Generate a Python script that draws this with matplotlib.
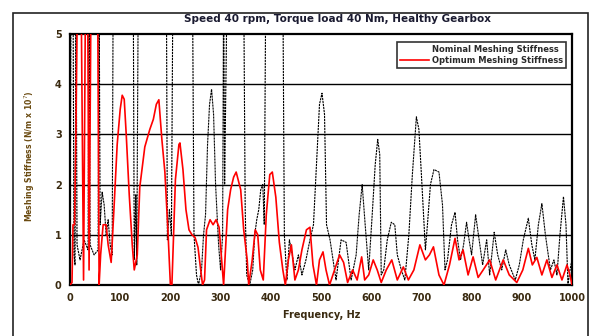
import matplotlib
matplotlib.use("Agg")
import matplotlib.pyplot as plt
from matplotlib.patches import Rectangle

# Nominal meshing stiffness (black), values above 5 are clipped by the axis
nominal_freq = [0, 2, 6, 8, 10, 12, 14, 20, 28, 36, 38, 40, 48, 56, 58, 60, 64, 68, 72, 76, 80, 84,
                86, 126, 128, 131, 133, 136, 192, 194, 198, 202, 205, 244, 247, 252, 256, 262, 266,
                270, 274, 278, 282, 286, 290, 296, 300, 304, 306, 308, 313, 346, 349, 352, 358, 364,
                368, 372, 376, 380, 384, 387, 390, 424, 427, 432, 434, 437, 441, 448, 455, 462, 470,
                478, 485, 492, 497, 502, 507, 511, 518, 524, 530, 540, 550, 560, 570, 576, 582, 588,
                595, 602, 608, 613, 617, 620, 625, 632, 640, 647, 652, 660, 667, 675, 682, 690, 695,
                700, 708, 712, 718, 725, 735, 742, 747, 752, 760, 767, 772, 778, 784, 790, 795, 800,
                808, 815, 822, 830, 836, 845, 852, 860, 868, 875, 887, 895, 903, 913, 920, 926, 933,
                940, 947, 957, 964, 970, 976, 983, 988, 992, 996, 1000]
nominal_val = [0.0, 6, 6, 0.6, 0.4, 6, 0.8, 0.5, 0.9, 0.7, 6, 0.8, 0.6, 0.7, 6, 1.2, 1.85, 1.6, 1.0,
               1.3, 0.8, 0.6, 6, 6, 0.5, 1.8, 0.4, 6, 6, 0.9, 1.5, 1.0, 6, 6, 1.0, 0.2, 0.0, 0.3,
               1.0, 1.4, 2.8, 3.6, 3.9, 3.4, 2.0, 0.8, 0.3, 1.0, 6, 2.0, 6, 6, 1.5, 0.2, 0.0, 0.3,
               1.0, 1.3, 1.5, 1.9, 2.0, 1.2, 6, 6, 1.0, 0.1, 0.4, 0.9, 0.7, 0.3, 0.6, 0.2, 0.5, 0.9,
               1.2, 2.6, 3.6, 3.82, 3.4, 1.2, 0.9, 0.5, 0.1, 0.9, 0.85, 0.1, 0.6, 1.4, 2.0, 1.2, 0.3,
               1.4, 2.4, 2.9, 2.6, 0.2, 0.3, 0.9, 1.25, 1.2, 0.6, 0.3, 0.1, 1.0, 2.2, 3.35, 3.1,
               2.2, 0.7, 1.2, 2.0, 2.3, 2.25, 1.6, 0.3, 0.5, 1.2, 1.45, 0.9, 0.5, 0.8, 1.25, 0.9,
               0.6, 1.4, 0.9, 0.4, 0.9, 0.2, 1.05, 0.6, 0.3, 0.7, 0.4, 0.1, 0.4, 0.9, 1.33, 0.8,
               0.5, 1.2, 1.62, 1.0, 0.3, 0.5, 0.2, 1.0, 1.76, 1.2, 0.0, 0.3, 0.5]

# Optimum meshing stiffness (red)
optimum_freq = [0, 4, 6, 9, 12, 15, 22, 27, 31, 35, 38, 42, 55, 58, 61, 66, 72, 76, 82, 88, 94, 100,
                104, 108, 112, 118, 124, 128, 134, 139, 149, 159, 166, 172, 177, 183, 189, 195, 200,
                203, 210, 217, 219, 225, 231, 237, 243, 249, 255, 264, 268, 272, 279, 285, 291, 297,
                303, 306, 314, 320, 326, 331, 340, 346, 353, 356, 363, 369, 374, 379, 385, 391, 398,
                403, 410, 417, 424, 429, 435, 441, 448, 455, 462, 471, 478, 484, 491, 497, 504, 510,
                517, 527, 537, 545, 553, 563, 572, 581, 587, 595, 604, 612, 620, 630, 641, 652, 664,
                674, 685, 697, 708, 716, 724, 735, 745, 756, 767, 775, 783, 793, 803, 813, 823, 836,
                848, 863, 875, 890, 902, 913, 921, 930, 940, 950, 960, 970, 980, 990, 996, 1000]
optimum_val = [0.0, 0.05, 1.2, 1.2, 3.2, 6, 6, 0.1, 6, 6, 0.3, 6, 6, 0.0, 0.6, 1.2, 1.2, 0.8, 0.45,
               1.6, 2.8, 3.5, 3.78, 3.7, 3.0, 1.8, 0.8, 0.3, 0.6, 1.95, 2.75, 3.1, 3.3, 3.6, 3.69,
               2.9, 2.25, 1.1, 0.0, 0.0, 2.1, 2.8, 2.83, 2.3, 1.5, 1.1, 1.0, 0.95, 0.75, 0.0, 0.1,
               1.1, 1.3, 1.2, 1.3, 1.15, 0.4, 0.0, 1.5, 1.9, 2.15, 2.25, 1.9, 1.1, 0.5, 0.0, 0.5,
               1.1, 1.0, 0.3, 0.1, 1.4, 2.2, 2.25, 1.75, 0.85, 0.3, 0.0, 0.5, 0.8, 0.1, 0.3, 0.7,
               1.1, 1.15, 0.4, 0.0, 0.5, 0.66, 0.3, 0.0, 0.3, 0.6, 0.45, 0.05, 0.3, 0.1, 0.56, 0.1,
               0.2, 0.5, 0.3, 0.05, 0.3, 0.5, 0.1, 0.36, 0.1, 0.3, 0.8, 0.5, 0.6, 0.76, 0.2, 0.0,
               0.4, 0.93, 0.5, 0.7, 0.2, 0.56, 0.15, 0.3, 0.5, 0.1, 0.5, 0.2, 0.05, 0.3, 0.73, 0.4,
               0.55, 0.2, 0.5, 0.15, 0.4, 0.1, 0.4, 0.2, 0.0]

x_ticks = [0, 100, 200, 300, 400, 500, 600, 700, 800, 900, 1000]
y_ticks = [0, 1, 2, 3, 4, 5]

title_text = "Speed 40 rpm, Torque load 40 Nm, Healthy Gearbox"
label_nominal = "Nominal Meshing Stiffness"
label_optimum = "Optimum Meshing Stiffness"
x_label = "Frequency, Hz"
y_label = "Meshing Stiffness (N/m x 10$^7$)"

plt.rcParams['font.family'] = ['DejaVu Sans']

fig = plt.figure(figsize=(5.94, 3.36), dpi=100)
fig.patch.set_facecolor('white')

# outer frame (bottom edge cropped)
fig.add_artist(Rectangle((13 / 594, -0.1), (588 - 13) / 594, 1.1 - 13 / 336,
                         transform=fig.transFigure, fill=False, edgecolor='#222222',
                         linewidth=1.2, clip_on=False))

ax = fig.add_axes([70 / 594, 1 - 285 / 336, (572 - 70) / 594, (285 - 34) / 336])
ax.set_xlim(0, 1000)
ax.set_ylim(0, 5)

for yv in y_ticks[1:-1]:
    ax.axhline(yv, color='black', linewidth=1.0, zorder=1)

ax.plot(nominal_freq, nominal_val, color='black', linewidth=0.8, linestyle=(0, (2.0, 0.7)),
        label=label_nominal, zorder=2)
ax.plot(optimum_freq, optimum_val, color='#ff0000', linewidth=1.2, label=label_optimum, zorder=3)

ax.set_xticks(x_ticks)
ax.set_yticks(y_ticks)
ax.set_xticklabels([str(t) for t in x_ticks])
ax.set_yticklabels([str(t) for t in y_ticks])
lab_color = '#3a2a10'
ax.tick_params(axis='both', length=0, pad=6, labelsize=7, labelcolor=lab_color)
for t in ax.get_xticklabels() + ax.get_yticklabels():
    t.set_fontweight('bold')
for s in ax.spines.values():
    s.set_linewidth(1.6)
    s.set_color('black')

fig.text(337 / 594, 1 - 19 / 336, title_text, ha='center', va='center', fontsize=7.5,
         fontweight='bold', color='#1a1a30')
fig.text(322 / 594, 1 - 315 / 336, x_label, ha='center', va='center', fontsize=7,
         fontweight='bold', color=lab_color)
fig.text(30 / 594, 1 - 156 / 336, y_label, ha='center', va='center', fontsize=5.6,
         fontweight='bold', color='#6a4a10', rotation=90)

leg = ax.legend(loc='upper right', bbox_to_anchor=(566 / 594, 1 - 42 / 336),
                bbox_transform=fig.transFigure, frameon=True, fancybox=False,
                prop={'size': 6, 'weight': 'bold'}, handlelength=3.5, borderpad=0.3,
                labelspacing=0.3, handletextpad=0.4, borderaxespad=0)
leg.get_frame().set_edgecolor('black')
leg.get_frame().set_linewidth(1.2)
leg.legend_handles[0].set_visible(False)
for t in leg.get_texts():
    t.set_color('#2a2a2a')

fig.savefig('out.png', dpi=100)
